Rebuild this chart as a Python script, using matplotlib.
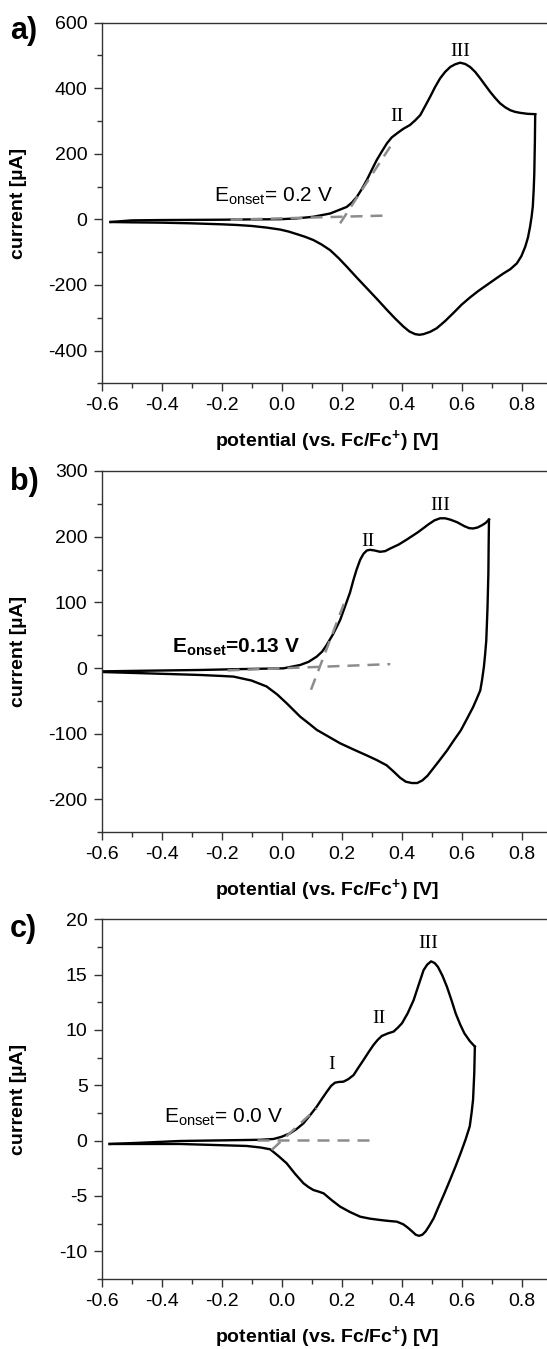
import matplotlib
matplotlib.use("Agg")
import matplotlib.pyplot as plt
from matplotlib.ticker import MultipleLocator

plt.rcParams['font.family'] = ['Liberation Sans', 'DejaVu Sans']
plt.rcParams['mathtext.fontset'] = 'custom'
plt.rcParams['mathtext.rm'] = 'Liberation Sans'
plt.rcParams['mathtext.it'] = 'Liberation Sans:italic'
plt.rcParams['mathtext.bf'] = 'Liberation Sans:bold'

# ---- a) anodic / cathodic sweeps (potential in V, current in uA)
a_fwd_x = [-0.57, -0.5, -0.4, -0.3, -0.2, -0.1, -0.005, 0.05, 0.106, 0.162, 0.217, 0.235,
           0.251, 0.267, 0.284, 0.30, 0.317, 0.334, 0.351, 0.367, 0.384, 0.405, 0.428,
           0.445, 0.462, 0.478, 0.495, 0.511, 0.528, 0.545, 0.562, 0.578, 0.595, 0.612,
           0.628, 0.645, 0.662, 0.678, 0.695, 0.712, 0.728, 0.745, 0.762, 0.778, 0.795,
           0.82, 0.845]
a_fwd_y = [-8, -3, -2, -1.5, -1, 0, 0.5, 3, 8, 18, 38, 52, 69, 92, 120, 150, 181, 207,
           232, 250, 262, 276, 288, 302, 318, 345, 374, 403, 430, 450, 465, 473, 478, 474,
           465, 450, 430, 410, 389, 370, 354, 342, 333, 328, 325, 322, 321]
a_rev_x = [0.845, 0.844, 0.842, 0.840, 0.837, 0.833, 0.828, 0.821, 0.812, 0.799, 0.784,
           0.762, 0.739, 0.712, 0.684, 0.656, 0.628, 0.60, 0.573, 0.545, 0.517, 0.495,
           0.473, 0.459, 0.445, 0.426, 0.406, 0.378, 0.351, 0.318, 0.284, 0.25, 0.217,
           0.19, 0.162, 0.134, 0.106, 0.078, 0.051, 0.023, -0.005, -0.05, -0.1, -0.15,
           -0.2, -0.3, -0.4, -0.5, -0.57]
a_rev_y = [321, 240, 140, 90, 39, 8, -22, -55, -83, -112, -134, -152, -165, -182, -200,
           -218, -238, -260, -285, -310, -332, -343, -350, -352, -350, -342, -327, -302,
           -276, -243, -210, -177, -144, -118, -94, -77, -63, -53, -45, -37, -31, -25,
           -20, -17, -15, -12, -10, -9, -8]
a_base_x = [-0.17, 0.36]
a_base_y = [-1, 12]
a_tan_x = [0.195, 0.362]
a_tan_y = [-12, 222]

# ---- b)
b_fwd_x = [-0.6, -0.45, -0.272, -0.13, 0.006, 0.062, 0.09, 0.117, 0.135, 0.15, 0.172,
           0.195, 0.21, 0.228, 0.24, 0.25, 0.262, 0.273, 0.284, 0.295, 0.31, 0.328, 0.345,
           0.362, 0.39, 0.415, 0.455, 0.49, 0.51, 0.528, 0.545, 0.562, 0.585, 0.609, 0.625,
           0.638, 0.653, 0.668, 0.68, 0.691]
b_fwd_y = [-5, -4, -2.9, -1.5, -0.4, 4.7, 9.5, 17.4, 25, 35, 52, 73, 92, 115, 135, 150,
           165, 174, 179, 180, 179, 177, 178, 182, 188, 195, 207, 219, 225, 228, 228, 226,
           222, 216, 213, 212.5, 214, 217.5, 221, 226]
b_rev_x = [0.691, 0.690, 0.689, 0.686, 0.682, 0.678, 0.674, 0.668, 0.662, 0.65, 0.638,
           0.618, 0.597, 0.574, 0.551, 0.527, 0.504, 0.486, 0.469, 0.452, 0.434, 0.414,
           0.395, 0.372, 0.35, 0.317, 0.284, 0.24, 0.195, 0.155, 0.117, 0.09, 0.062, 0.04,
           0.017, -0.015, -0.05, -0.1, -0.16, -0.2, -0.272, -0.45, -0.6]
b_rev_y = [226, 190, 144, 90, 42, 20, 1.5, -18, -34, -47, -59.5, -77, -95, -110, -125.6,
           -140, -153.5, -164, -171, -175, -175, -173, -167, -157, -148, -140, -133, -124,
           -114.5, -104, -94, -84, -74, -64, -53.6, -40, -28, -19, -13, -12, -10.5, -8, -6]
b_base_x = [-0.18, 0.362]
b_base_y = [-3.5, 6]
b_tan_x = [0.098, 0.217]
b_tan_y = [-33, 109]

# ---- c)
c_fwd_x = [-0.573, -0.479, -0.338, -0.116, -0.07, -0.027, 0.0, 0.028, 0.05, 0.073, 0.095,
           0.117, 0.135, 0.151, 0.165, 0.178, 0.19, 0.206, 0.222, 0.24, 0.256, 0.273, 0.29,
           0.306, 0.32, 0.334, 0.355, 0.373, 0.387, 0.401, 0.42, 0.44, 0.457, 0.473, 0.485,
           0.498, 0.51, 0.521, 0.536, 0.551, 0.566, 0.58, 0.595, 0.609, 0.627, 0.644]
c_fwd_y = [-0.3, -0.2, -0.03, 0.06, 0.08, 0.15, 0.35, 0.66, 1.05, 1.57, 2.3, 3.07, 3.8,
           4.43, 4.95, 5.24, 5.3, 5.33, 5.55, 5.93, 6.6, 7.29, 8.0, 8.64, 9.1, 9.46, 9.7,
           9.85, 10.2, 10.6, 11.5, 12.7, 14.1, 15.4, 15.9, 16.2, 16.05, 15.7, 14.9, 13.9,
           12.7, 11.5, 10.5, 9.7, 9.0, 8.5]
c_rev_x = [0.644, 0.643, 0.642, 0.640, 0.638, 0.633, 0.627, 0.613, 0.597, 0.58, 0.562,
           0.542, 0.521, 0.507, 0.492, 0.48, 0.469, 0.458, 0.447, 0.435, 0.42, 0.405, 0.384,
           0.355, 0.329, 0.295, 0.262, 0.228, 0.195, 0.168, 0.14, 0.123, 0.106, 0.09,
           0.073, 0.045, 0.017, -0.01, -0.038, -0.07, -0.116, -0.338, -0.573]
c_rev_y = [8.5, 7.3, 6.1, 4.9, 3.7, 2.5, 1.3, 0.1, -1.1, -2.3, -3.5, -4.8, -6.1, -7.0,
           -7.7, -8.2, -8.5, -8.6, -8.5, -8.2, -7.85, -7.55, -7.32, -7.25, -7.17, -7.05,
           -6.87, -6.45, -5.96, -5.4, -4.76, -4.6, -4.46, -4.2, -3.85, -3.0, -2.05, -1.4,
           -0.78, -0.62, -0.48, -0.3, -0.3]
c_base_x = [-0.083, 0.29]
c_base_y = [0.06, 0.06]
c_tan_x = [-0.033, 0.117]
c_tan_y = [-0.84, 2.92]

panels = [
    dict(tag='a)', fwd=(a_fwd_x, a_fwd_y), rev=(a_rev_x, a_rev_y),
         base=(a_base_x, a_base_y), tan=(a_tan_x, a_tan_y),
         ylim=(-500, 600), major=200, minor=100,
         onset=(0.173, 54, r'E$_{\mathrm{onset}}$= 0.2 V', 'normal'),
         peaks=[('II', 0.384, 313), ('III', 0.595, 511)],
         box=(22.7, 383.3), tag_y=39),
    dict(tag='b)', fwd=(b_fwd_x, b_fwd_y), rev=(b_rev_x, b_rev_y),
         base=(b_base_x, b_base_y), tan=(b_tan_x, b_tan_y),
         ylim=(-250, 300), major=100, minor=50,
         onset=(0.06, 23.5, r'$\mathbf{E_{onset}}$=0.13 V', 'bold'),
         peaks=[('II', 0.289, 192), ('III', 0.528, 247)],
         box=(471, 832.3), tag_y=490),
    dict(tag='c)', fwd=(c_fwd_x, c_fwd_y), rev=(c_rev_x, c_rev_y),
         base=(c_base_x, c_base_y), tan=(c_tan_x, c_tan_y),
         ylim=(-12.5, 20), major=5, minor=2.5,
         onset=(0.006, 1.6, r'E$_{\mathrm{onset}}$= 0.0 V', 'normal'),
         peaks=[('I', 0.167, 6.84), ('II', 0.323, 11.05), ('III', 0.49, 17.8)],
         box=(919.3, 1279), tag_y=937),
]

W, H = 547, 1349
fig = plt.figure(figsize=(W / 100, H / 100), dpi=100)

left_px, right_px = 101.5, 551.7
for p in panels:
    top_px, bot_px = p['box']
    ax = fig.add_axes([left_px / W, 1 - bot_px / H,
                       (right_px - left_px) / W, (bot_px - top_px) / H])

    dash = dict(color='#8c8c8c', lw=1.8, dashes=(4.8, 3.2), zorder=3)
    ax.plot(*p['base'], **dash)
    ax.plot(*p['tan'], **dash)
    ax.plot(*p['fwd'], color='black', lw=1.7, solid_joinstyle='round', zorder=2)
    ax.plot(*p['rev'], color='black', lw=1.7, solid_joinstyle='round', zorder=2)

    ax.set_xlim(-0.6, 0.9)
    ax.set_ylim(*p['ylim'])
    ax.xaxis.set_major_locator(MultipleLocator(0.2))
    ax.xaxis.set_minor_locator(MultipleLocator(0.1))
    ax.yaxis.set_major_locator(MultipleLocator(p['major']))
    ax.yaxis.set_minor_locator(MultipleLocator(p['minor']))
    ax.xaxis.set_major_formatter(lambda v, pos: f'{v:.1f}')
    ax.yaxis.set_major_formatter(lambda v, pos: f'{v:g}')
    ax.tick_params(which='both', direction='out', top=False, right=False,
                   color='#333333', width=1)
    ax.tick_params(which='major', length=6, labelsize=14, pad=4)
    ax.tick_params(which='minor', length=3.5)
    for s in ax.spines.values():
        s.set_color('#333333')
        s.set_linewidth(1)

    ax.set_ylabel('current [µA]', fontsize=14, fontweight='bold')
    ax.yaxis.set_label_coords(-0.165, 0.5)
    ax.set_xlabel(r'potential (vs. Fc/Fc$^{\mathbf{+}}$) [V]', fontsize=14,
                  fontweight='bold')
    ax.xaxis.set_label_coords(0.5, -0.125)

    ox, oy, otxt, ow = p['onset']
    ax.text(ox, oy, otxt, ha='right', va='baseline', fontsize=15, fontweight=ow)
    for name, px, py in p['peaks']:
        ax.text(px, py, name, ha='center', va='center', fontsize=14,
                family='Liberation Serif')

    fig.text(10 / W, 1 - p['tag_y'] / H, p['tag'], fontsize=22, fontweight='bold',
             ha='left', va='baseline')

fig.savefig('out.png', dpi=100)
